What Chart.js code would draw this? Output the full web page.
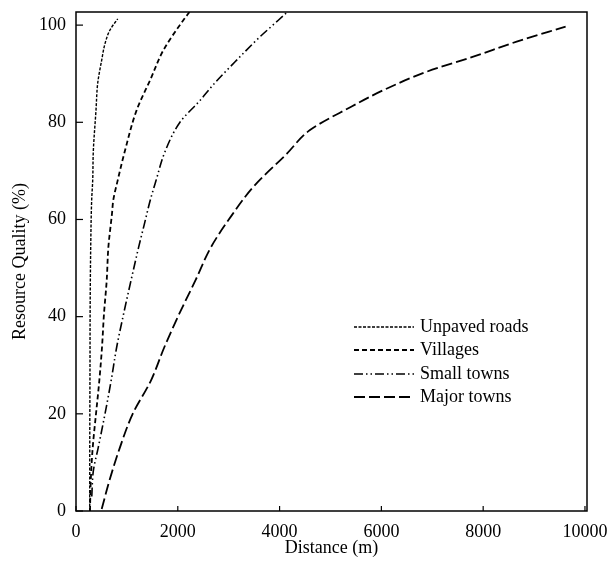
<!DOCTYPE html>
<html>
<head>
<meta charset="utf-8">
<script src="https://cdn.jsdelivr.net/npm/chart.js@4"></script>
<style>
  html, body { margin: 0; padding: 0; background: #fff; }
  canvas { display: block; }
</style>
</head>
<body>
<canvas id="qualityChart" width="613" height="569"></canvas>
<script>
// Values: distance (m) at each resource quality (%)
const seriesNames = ['Unpaved roads', 'Villages', 'Small towns', 'Major towns'];

const unpavedQuality = [0, 10, 20, 30, 42, 55, 64, 68, 74, 82.5, 88, 92.8, 96.2, 99, 101.3];
const unpavedDistance = [270, 270, 272, 275, 278, 290, 308, 328, 340, 393, 426, 505, 570, 668, 820];

const villageQuality = [0, 6, 13, 20, 26.8, 33.7, 40.6, 47.4, 54.3, 61.2, 64, 68, 74.2, 82.5, 89, 94.8, 101, 102.7];
const villageDistance = [275, 289, 328, 393, 458, 511, 550, 603, 636, 707, 733, 818, 963, 1192, 1470, 1715, 2108, 2230];

const smallTownQuality = [3, 8.2, 13.1, 20, 26.8, 33.7, 40.6, 47.4, 54.3, 59, 64, 68, 74, 80, 84.5, 88, 92.8, 97.6, 101, 102.7];
const smallTownDistance = [310, 340, 438, 570, 690, 799, 936, 1080, 1231, 1342, 1460, 1572, 1750, 2043, 2436, 2720, 3157, 3615, 3975, 4150];

const majorTownQuality = [0.4, 6.2, 13.1, 20, 26.8, 33.7, 40.6, 47.4, 54.3, 61, 66.7, 73.5, 78.4, 83, 86.6, 90.4, 93.5, 96.6, 99.7];
const majorTownDistance = [505, 655, 864, 1114, 1470, 1735, 2030, 2344, 2652, 3070, 3483, 4139, 4597, 5370, 6037, 6890, 7806, 8658, 9620];

const xTicks = [0, 2000, 4000, 6000, 8000, 10000];
const yTicks = [0, 20, 40, 60, 80, 100];

const dashes = [[3, 1.5], [5, 3], [9, 3, 1.5, 3, 1.5, 3], [11, 4]];
const widths = [1.4, 1.8, 1.6, 1.8];

function toPoints(xs, ys) {
    return xs.map((x, i) => ({ x: x, y: ys[i] }));
}

const FONT = "'Liberation Serif', 'Times New Roman', serif";
Chart.defaults.font.family = FONT;
Chart.defaults.color = '#000';

// Frame, inward ticks and the line legend
const framePlugin = {
    id: 'frame',
    afterDraw(chart) {
        const { ctx, chartArea: a, scales } = chart;
        ctx.save();
        ctx.strokeStyle = '#000';
        ctx.lineWidth = 1.5;
        ctx.setLineDash([]);
        ctx.strokeRect(a.left, a.top, a.right - a.left, a.bottom - a.top);

        ctx.lineWidth = 1.2;
        xTicks.forEach(v => {
            const px = scales.x.getPixelForValue(v);
            ctx.beginPath();
            ctx.moveTo(px, a.bottom);
            ctx.lineTo(px, a.bottom - 5);
            ctx.stroke();
        });
        yTicks.forEach(v => {
            const py = scales.y.getPixelForValue(v);
            ctx.beginPath();
            ctx.moveTo(a.left, py);
            ctx.lineTo(a.left + 7, py);
            ctx.stroke();
        });

        // legend
        const rows = [327, 350, 374, 397];
        ctx.font = '18px ' + FONT;
        ctx.fillStyle = '#000';
        ctx.textBaseline = 'middle';
        seriesNames.forEach((name, i) => {
            ctx.lineWidth = widths[i];
            ctx.setLineDash(dashes[i]);
            ctx.beginPath();
            ctx.moveTo(354, rows[i]);
            ctx.lineTo(414, rows[i]);
            ctx.stroke();
            ctx.fillText(name, 420, rows[i]);
        });
        ctx.restore();
    }
};

const plain = v => String(v);

const ctx = document.getElementById('qualityChart').getContext('2d');
const chart = new Chart(ctx, {
    type: 'line',
    data: {
        datasets: [
            toPoints(unpavedDistance, unpavedQuality),
            toPoints(villageDistance, villageQuality),
            toPoints(smallTownDistance, smallTownQuality),
            toPoints(majorTownDistance, majorTownQuality)
        ].map((pts, i) => ({
            label: seriesNames[i],
            data: pts,
            borderColor: '#000',
            borderWidth: widths[i],
            borderDash: dashes[i],
            pointRadius: 0,
            cubicInterpolationMode: 'monotone',
            fill: false
        }))
    },
    options: {
        indexAxis: 'y',
        responsive: false,
        animation: false,
        layout: { padding: { left: 0, top: 12, right: 26, bottom: 0 } },
        plugins: {
            legend: { display: false },
            tooltip: { enabled: false }
        },
        scales: {
            x: {
                type: 'linear',
                position: 'bottom',
                min: 0,
                max: 10040,
                grid: { display: false, drawTicks: false, tickLength: 0 },
                border: { display: false },
                ticks: { stepSize: 2000, padding: 10, font: { size: 18 }, maxRotation: 0, callback: plain },
                afterBuildTicks: s => { s.ticks = xTicks.map(v => ({ value: v })); },
                afterFit: s => { s.height = 58; s.paddingLeft = 0; s.paddingRight = 0; },
                title: { display: true, text: 'Distance (m)', font: { size: 18 }, padding: { top: 0, bottom: 10 } }
            },
            y: {
                type: 'linear',
                position: 'left',
                reverse: false,
                min: 0,
                max: 102.7,
                grid: { display: false, drawTicks: false, tickLength: 0 },
                border: { display: false },
                ticks: { stepSize: 20, padding: 10, font: { size: 18 }, callback: plain },
                afterBuildTicks: s => { s.ticks = yTicks.map(v => ({ value: v })); },
                afterFit: s => { s.width = 76; s.paddingTop = 0; s.paddingBottom = 0; },
                title: { display: true, text: 'Resource Quality (%)', font: { size: 18 }, padding: { top: 9, bottom: 0 } }
            }
        }
    },
    plugins: [framePlugin]
});
</script>
</body>
</html>
